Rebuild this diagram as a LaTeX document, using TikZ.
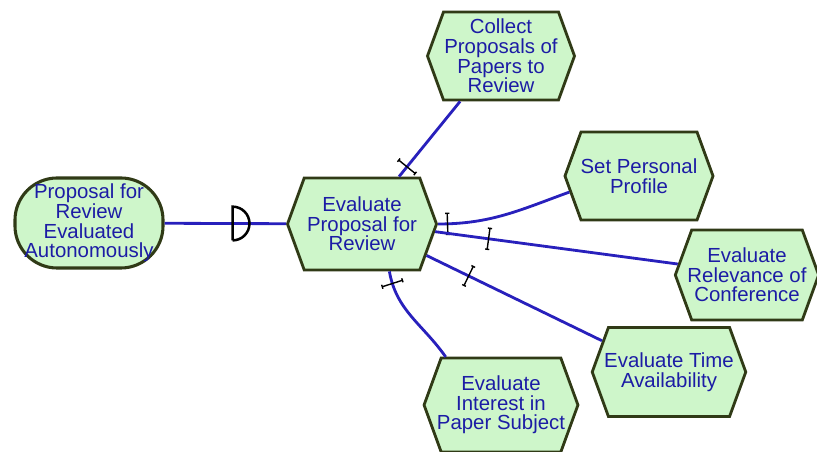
\documentclass[tikz,border=0pt]{standalone}
\usepackage{fontspec}
\setmainfont{Liberation Sans}
\usepackage{tikz}
\usetikzlibrary{shapes.symbols, decorations.markings}

\definecolor{linkblue}{RGB}{40,32,188}
\definecolor{textblue}{RGB}{28,28,165}
\definecolor{boxgreen}{RGB}{206,246,202}
\definecolor{boxedge}{RGB}{48,58,22}

\begin{document}
\begin{tikzpicture}[x=0.025cm, y=-0.025cm,
        every node/.style={font=\fontsize{14.5}{14}\selectfont, text=textblue, align=center},
        task/.style={signal, signal to=west and east, signal pointer angle=140,
            draw=boxedge, line width=2pt, fill=boxgreen, inner ysep=1pt, inner xsep=-3pt},
        softgoal/.style={rectangle, rounded corners=30pt, draw=boxedge, line width=2.2pt, fill=boxgreen,
            inner sep=0pt, minimum width=3.7cm, minimum height=2.25cm},
        link/.style={draw=linkblue, line width=2pt},
        andbar/.style={postaction={decorate, decoration={markings,
            mark=at position #1 with {\draw[black, line width=1pt] (0,-7.5pt) -- (0,7.5pt);
                \draw[black, line width=1pt] (-1.5pt,-7.5pt) -- (1.5pt,-7.5pt) (-1.5pt,7.5pt) -- (1.5pt,7.5pt);}}}},
        dmark/.style={postaction={decorate, decoration={markings,
            mark=at position #1 with {\draw[black, line width=1.8pt] (0,-12pt) -- (0,12pt) arc (90:-90:12pt);}}}}]
    \useasboundingbox (0,0) rectangle (817,452);

    \node[softgoal] at (89, 223) (goal) {Proposal for\\Review\\Evaluated\\Autonomously};
    \node[task, minimum width=3.725cm, minimum height=2.3cm] at (362, 224) (eval) {Evaluate\\Proposal for\\Review};
    \node[task, minimum width=3.675cm, minimum height=2.2cm] at (501, 56) (collect) {Collect\\Proposals of\\Papers to\\Review};
    \node[task, minimum width=3.7cm, minimum height=2.2cm] at (639, 176) (profile) {Set Personal\\Profile};
    \node[task, minimum width=3.45cm, minimum height=2.25cm] at (747, 275) (relevance) {Evaluate\\Relevance of\\Conference};
    \node[task, minimum width=3.7cm, minimum height=2.225cm] at (669, 372) (time) {Evaluate Time\\Availability};
    \node[task, minimum width=3.65cm, minimum height=2.35cm] at (501, 405) (interest) {Evaluate\\Interest in\\Paper Subject};

    \draw [link, dmark=0.56] (goal) -- (eval);
    \draw [link, andbar=0.13] (eval.52) -- (collect.228);
    \draw [link, andbar=0.07] (eval.east) to[out=0, in=200] (profile.193);
    \draw [link, andbar=0.22] (eval.-6) -- (relevance.171);
    \draw [link, andbar=0.24] (eval.-26) -- (time.155);
    \draw [link, andbar=0.12] (eval.-60) to[out=-80, in=125] (interest.139);
\end{tikzpicture}
\end{document}
